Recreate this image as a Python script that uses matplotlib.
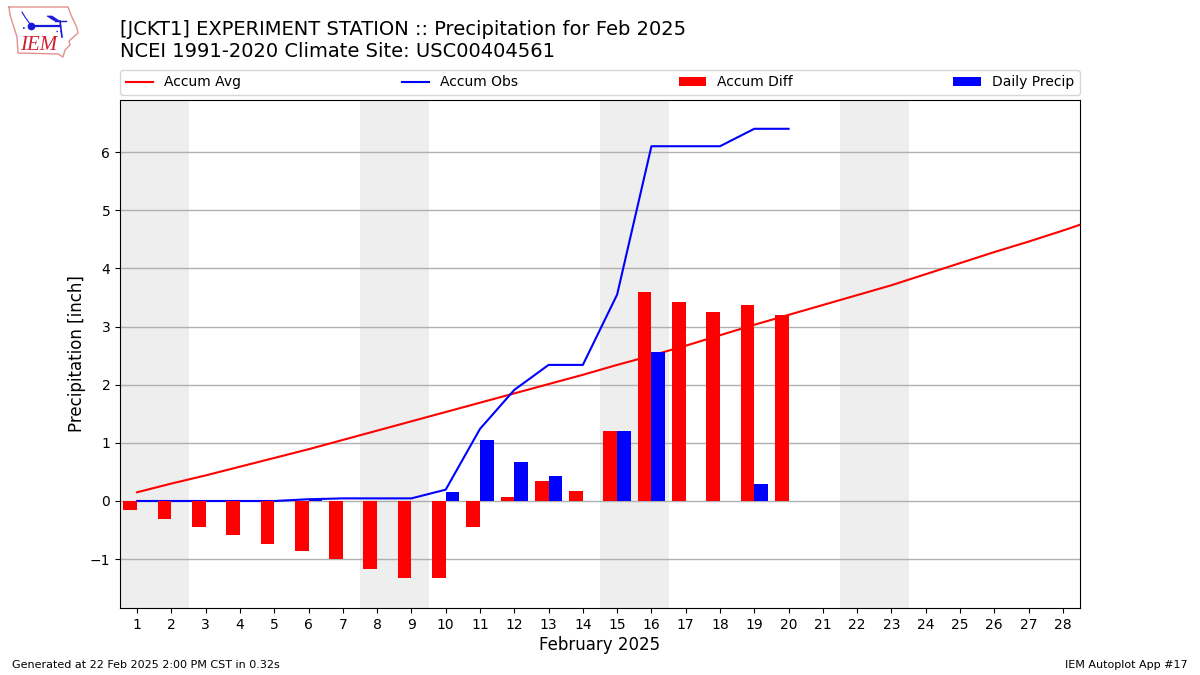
import numpy as np
import matplotlib
matplotlib.use("Agg")
import matplotlib.pyplot as plt

days = list(range(1, 30))
accum_avg = [0.15, 0.30, 0.44, 0.59, 0.74, 0.89, 1.05, 1.21, 1.37, 1.53,
             1.69, 1.85, 2.01, 2.17, 2.34, 2.50, 2.67, 2.85, 3.03, 3.20,
             3.37, 3.54, 3.71, 3.90, 4.09, 4.28, 4.46, 4.65, 4.85]
obs_days = list(range(1, 21))
accum_obs = [0, 0, 0, 0, 0, 0.03, 0.045, 0.045, 0.045, 0.195,
             1.24, 1.91, 2.34, 2.34, 3.55, 6.10, 6.10, 6.10, 6.40, 6.40]
accum_diff = [-0.15, -0.31, -0.44, -0.59, -0.74, -0.86, -1.00, -1.17, -1.33, -1.33,
              -0.44, 0.07, 0.35, 0.18, 1.21, 3.60, 3.43, 3.25, 3.37, 3.20]
daily_precip = [0, 0, 0, 0, 0, 0.03, 0, 0, 0, 0.15,
                1.05, 0.67, 0.43, 0, 1.21, 2.57, 0, 0, 0.30, 0]
weekends = [(0.5, 2.5), (7.5, 9.5), (14.5, 16.5), (21.5, 23.5)]
tick_days = list(range(1, 29))
title = "[JCKT1] EXPERIMENT STATION :: Precipitation for Feb 2025\nNCEI 1991-2020 Climate Site: USC00404561"

fig = plt.figure(figsize=(12, 6.75), dpi=100)
ax = fig.add_axes([0.1, 1 - 608 / 675, 0.8, 508 / 675])

for lo, hi in weekends:
    ax.axvspan(lo, hi, color="#EEEEEE", lw=0, zorder=0)
ax.plot(days, accum_avg, color="red", lw=1.5, label="Accum Avg", zorder=2)
ax.plot(obs_days, accum_obs, color="blue", lw=1.5, label="Accum Obs", zorder=2)
ax.bar(obs_days, accum_diff, width=-0.4, align="edge", color="red", label="Accum Diff", zorder=3)
ax.bar(obs_days, daily_precip, width=0.4, align="edge", color="blue", label="Daily Precip", zorder=3)

ax.set_xlim(0.5, 28.5)
ax.set_ylim(-1.84, 6.895)
ax.set_xticks(tick_days)
ax.set_yticks(range(-1, 7))
ax.grid(axis="y", color="#b0b0b0", lw=1, zorder=1)
ax.set_axisbelow(True)
ax.set_xlabel("February 2025", fontsize=12, labelpad=3)
ax.set_ylabel("Precipitation [inch]", fontsize=12, labelpad=3)
ax.legend(loc="lower left", bbox_to_anchor=(0, 513 / 508, 1, 0.05), ncol=4, mode="expand",
          borderaxespad=0, fontsize=10)

fig.text(0.1, 1 - 61 / 675, title, fontsize=14, ha="left", va="bottom", linespacing=1.2)
fig.text(0.01, 0.0075, "Generated at 22 Feb 2025 2:00 PM CST in 0.32s", fontsize=8, ha="left", va="bottom")
fig.text(0.99, 0.0075, "IEM Autoplot App #17", fontsize=8, ha="right", va="bottom")

# Approximate IEM logo (state outline, station glyph and lettering), in logo pixel space
logo = fig.add_axes([8 / 1200, 1 - 59 / 675, 72 / 1200, 53 / 675])
logo.set_xlim(8, 80)
logo.set_ylim(59, 6)
logo.axis("off")
logo.plot([9, 68, 71, 77, 78, 69, 70, 65, 63, 58, 18, 17, 10, 9],
          [7, 7, 15, 28, 33, 41, 45, 50, 57, 54, 53, 37, 15, 7],
          color="#e49090", lw=1)
logo.plot([31, 60], [26, 26], color="#1818d8", lw=1.6)
logo.plot([31], [26], "o", color="#1818d8", ms=4.5)
logo.fill([47, 52, 58, 60, 53], [16, 16, 20, 22, 20], color="#1818d8", lw=0.5)
logo.plot([55, 66], [21, 21], color="#1818d8", lw=1)
logo.plot([60, 62], [21, 37], color="#1818d8", lw=1.2)
logo.plot([56, 63], [31, 31], color="#1818d8", lw=1, ls=":")
logo.plot([22, 25, 30], [12, 17, 24], color="#1818d8", lw=0.8)
logo.plot([23, 27], [28, 28], color="#1818d8", lw=1.2, ls=":")
logo.text(20, 46, "IEM", color="#d02030", fontsize=15, family="Liberation Serif",
          style="italic", va="center", ha="left")

fig.savefig("out.png", dpi=100)
